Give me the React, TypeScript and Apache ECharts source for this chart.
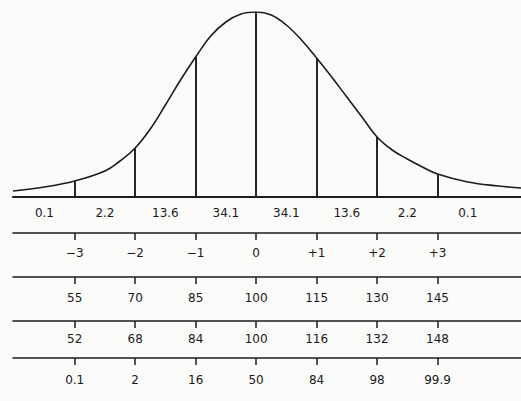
import React, { useEffect, useRef } from "react";
import * as echarts from "echarts";

// Bell curve (x in standard deviations, y = height above the baseline)
const curveZ = [-4.02, -3.5, -3, -2.5, -2.25, -2, -1.75, -1.5, -1.25, -1, -0.75, -0.5, -0.25, 0, 0.25, 0.5, 0.75, 1, 1.25, 1.5, 1.75, 2, 2.25, 2.5, 2.75, 3, 3.5, 4, 4.38];
const curveH = [6, 10, 16, 26, 36, 49, 68, 92, 117, 140, 161, 175, 183, 185, 182, 172, 157, 139, 120, 100, 80, 60, 47, 38, 30, 23, 15, 11, 9];

const sigmaTicks = [-3, -2, -1, 0, 1, 2, 3];
const bandCenters = [-3.5, -2.5, -1.5, -0.5, 0.5, 1.5, 2.5, 3.5];
const bandPercents = ["0.1", "2.2", "13.6", "34.1", "34.1", "13.6", "2.2", "0.1"];
const zScoreLabels = ["−3", "−2", "−1", "0", "+1", "+2", "+3"];
const wechslerIQ = ["55", "70", "85", "100", "115", "130", "145"];
const stanfordIQ = ["52", "68", "84", "100", "116", "132", "148"];
const percentileRanks = ["0.1", "2", "16", "50", "84", "98", "99.9"];

const X_MIN = -4.02;
const X_MAX = 4.38;
const INK = "#1c1c1c";
const FONT = "'DejaVu Sans', sans-serif";

function pick(labels: string[], positions: number[]) {
  return (v: number) => {
    const i = positions.findIndex((p) => Math.abs(p - v) < 1e-6);
    return i >= 0 ? labels[i] : "";
  };
}

function rowAxis(offset: number, labels: string[], positions: number[], margin: number, ticks: boolean, lineWidth: number) {
  return {
    type: "value",
    gridIndex: 0,
    position: "bottom",
    offset,
    min: X_MIN,
    max: X_MAX,
    axisLine: { show: true, onZero: false, lineStyle: { color: INK, width: lineWidth } },
    axisTick: { show: ticks, customValues: positions, length: 7, inside: false, lineStyle: { color: INK, width: 1.5 } },
    axisLabel: {
      show: true,
      customValues: positions,
      margin,
      formatter: pick(labels, positions),
      color: "#1a1a1a",
      fontSize: 12,
      fontFamily: FONT,
      hideOverlap: false,
    },
    splitLine: { show: false },
  };
}

export default function App() {
  const ref = useRef<HTMLDivElement>(null);
  useEffect(() => {
    if (!ref.current) return;
    const chart = echarts.init(ref.current, undefined, { renderer: "svg" });
    const curve = curveZ.map((z, i) => [z, curveH[i]]);
    const dividers = sigmaTicks.map((z) => {
      const i = curveZ.indexOf(z);
      return [{ coord: [z, 0] }, { coord: [z, curveH[i]] }];
    });
    chart.setOption({
      animation: false,
      backgroundColor: "#fbfbfa",
      grid: { left: 13, right: 0, top: 12, bottom: 204, containLabel: false },
      xAxis: [
        rowAxis(0, bandPercents, bandCenters, 10, false, 2.2),
        rowAxis(36, zScoreLabels, sigmaTicks, 14, true, 1.6),
        rowAxis(80, wechslerIQ, sigmaTicks, 15, true, 1.6),
        rowAxis(124, stanfordIQ, sigmaTicks, 12, true, 1.6),
        rowAxis(161, percentileRanks, sigmaTicks, 16, true, 1.6),
      ],
      yAxis: { type: "value", min: 0, max: 185, show: false },
      series: [
        {
          type: "line",
          xAxisIndex: 0,
          yAxisIndex: 0,
          data: curve,
          smooth: 0.4,
          symbol: "none",
          lineStyle: { color: INK, width: 1.6 },
          markLine: {
            silent: true,
            symbol: "none",
            label: { show: false },
            lineStyle: { color: INK, width: 1.9, type: "solid" },
            data: dividers,
          },
        },
      ],
    });
    return () => chart.dispose();
  }, []);
  return <div ref={ref} style={{ position: "absolute", left: 0, top: 0, width: 521, height: 401 }} />;
}
